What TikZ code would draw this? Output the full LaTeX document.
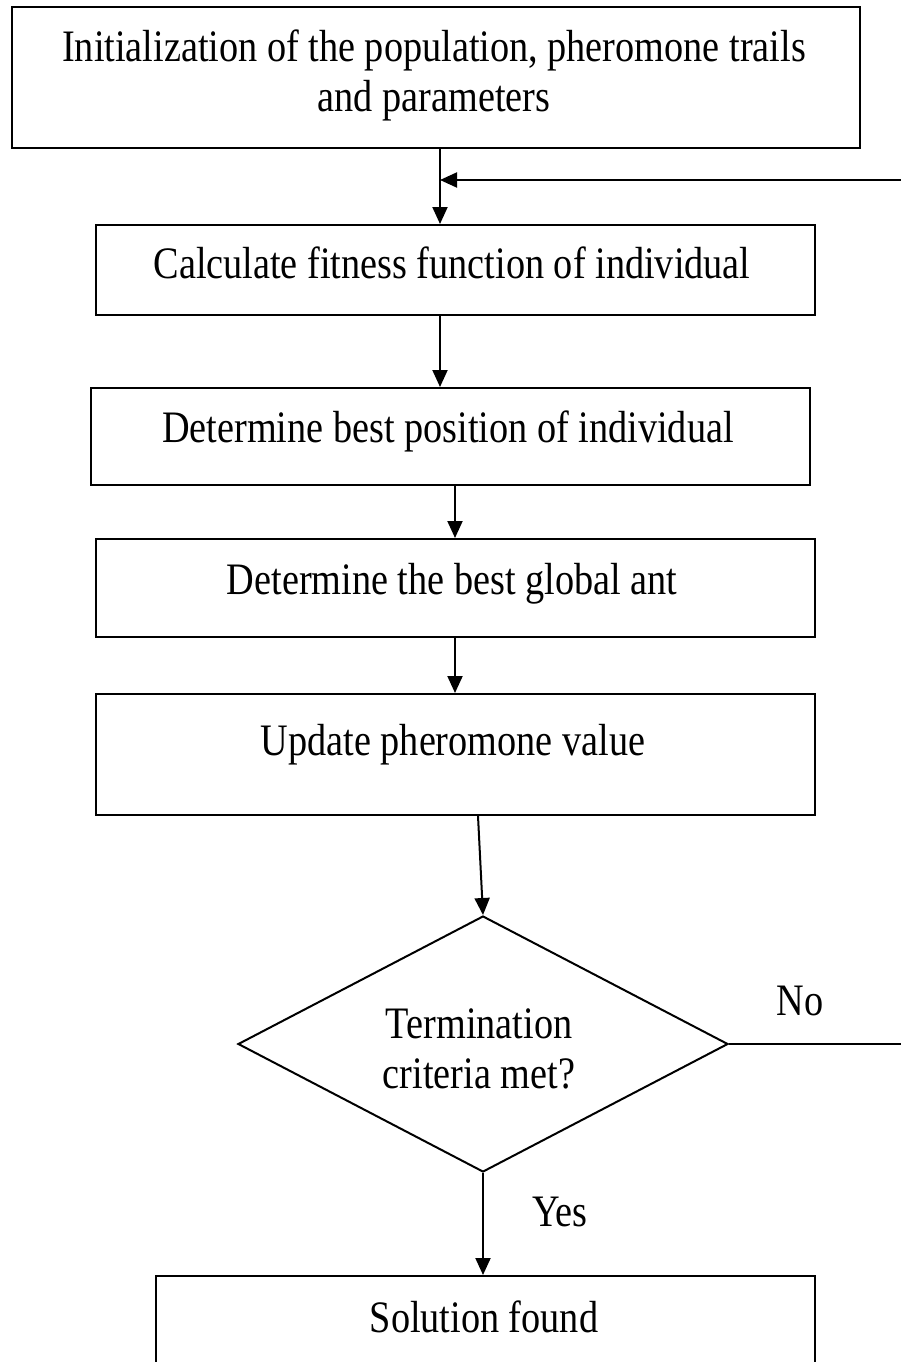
\documentclass[tikz,border=0pt]{standalone}
\usepackage{fontspec}
\setmainfont{Liberation Serif}[FakeStretch=0.85]
\usetikzlibrary{arrows.meta,shapes.geometric}

\begin{document}
\begin{tikzpicture}[x=1pt,y=-1pt,
  line width=2pt,
  stepbox/.style={draw, rectangle, inner sep=0pt},
  decision/.style={draw, diamond, inner sep=0pt, minimum width=490pt, minimum height=256pt},
  txt/.style={anchor=base, inner sep=0pt, align=center,
    font=\fontsize{45}{50}\selectfont},
  flow/.style={-{Triangle[length=17pt,width=15pt]}, line width=2pt}
]
\useasboundingbox (0,0) rectangle (901,1362);
\clip (0,0) rectangle (901,1362);

% process boxes
\node[stepbox, minimum width=848pt, minimum height=141pt] (b1) at (436,77.5) {};
\node[stepbox, minimum width=719pt, minimum height=90pt]  (b2) at (455.5,270) {};
\node[stepbox, minimum width=719pt, minimum height=97pt]  (b3) at (450.5,436.5) {};
\node[stepbox, minimum width=719pt, minimum height=98pt]  (b4) at (455.5,588) {};
\node[stepbox, minimum width=719pt, minimum height=121pt] (b5) at (455.5,754.5) {};
\node[decision] (dia) at (483,1044) {};
\node[stepbox, minimum width=659pt, minimum height=200pt] (b6) at (485.5,1376) {};

% box texts (base anchor sits on the last line)
\node[txt] (t1) at (434,112) {Initialization of the population, pheromone trails\\and parameters};
\node[txt] (t2) at (452,278) {Calculate fitness function of individual};
\node[txt] (t3) at (448,442) {Determine best position of individual};
\node[txt] (t4) at (452,594) {Determine the best global ant};
\node[txt] (t5) at (453,755) {Update pheromone value};
\node[txt] (t6) at (479,1088) {Termination\\criteria met?};
\node[txt] (t7) at (484,1332) {Solution found};
\node[txt] (yes) at (560,1226) {Yes};
\node[txt] (no)  at (800,1015) {No};

% connectors
\coordinate (join) at (440,180);
\coordinate (loopx) at (960,180);
\draw[flow] (b1.south -| join) -- (b2.north -| join);
\draw[flow] (b2.south -| join) -- (b3.north -| join);
\draw[flow] (b3.south -| 455,0) -- (b4.north -| 455,0);
\draw[flow] (b4.south -| 455,0) -- (b5.north -| 455,0);
\draw[flow] (b5.south -| 478,0) -- (dia.north);
\draw[flow] (dia.south) -- (dia.south |- b6.north);
% feedback loop from "No" back above the fitness step
\draw[flow] (dia.east) -- (dia.east -| loopx) -- (loopx) -- (join);
\end{tikzpicture}
\end{document}
